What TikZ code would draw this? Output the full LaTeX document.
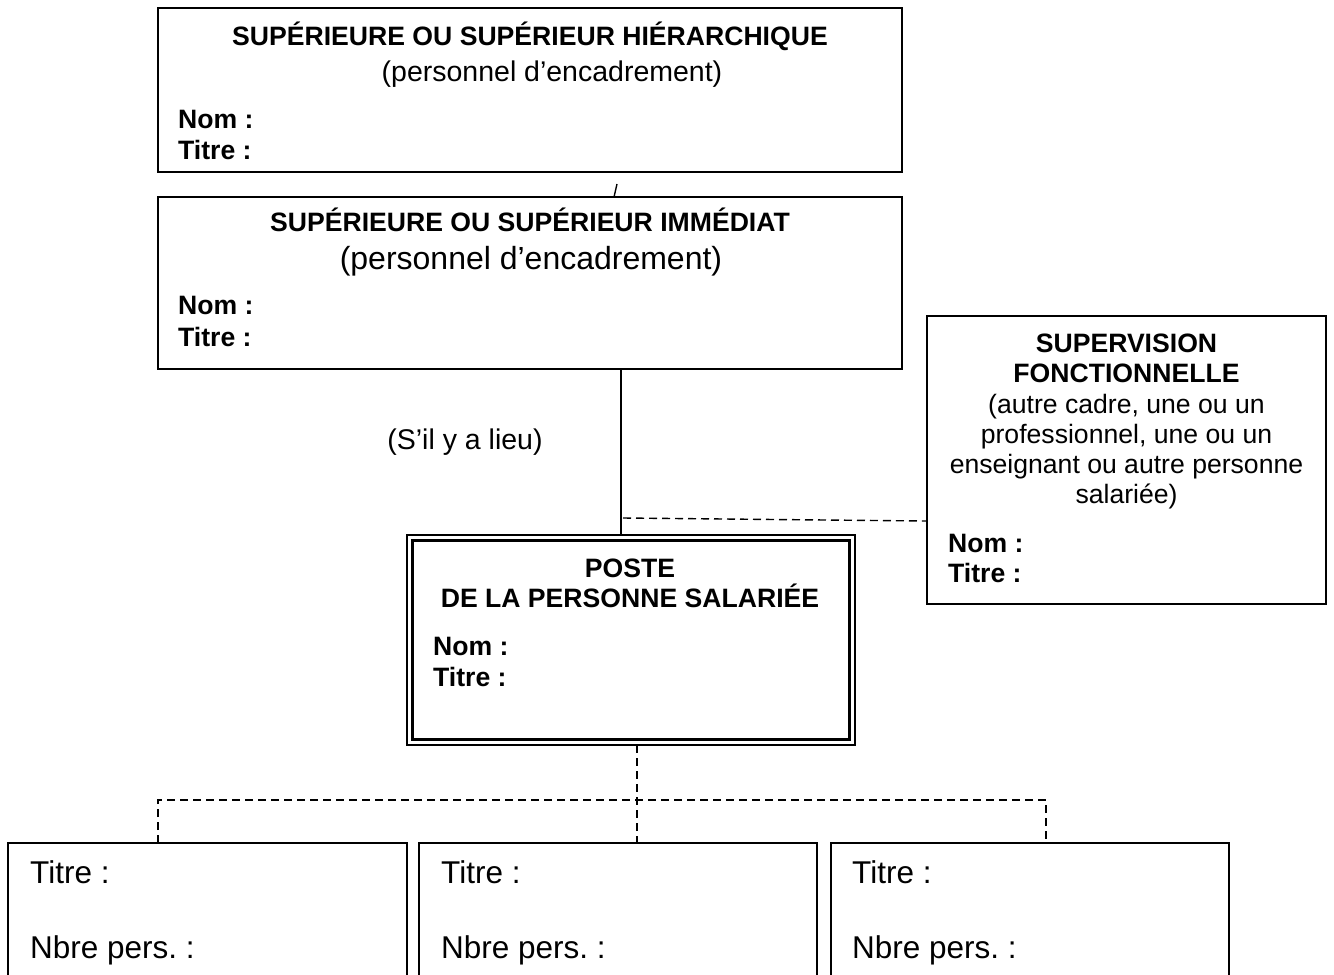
\documentclass[tikz,border=0pt]{standalone}
\usepackage{fontspec}
\setmainfont{Liberation Sans}
\frenchspacing
\begin{document}
\begin{tikzpicture}[x=1pt,y=-1pt,
  box/.style={draw,line width=1.4pt,inner sep=0pt,outer sep=0pt},
  bt/.style={inner sep=0pt,font=\fontsize{26.6}{30}\selectfont\bfseries},
  st/.style={inner sep=0pt,font=\fontsize{28.5}{32}\selectfont},
  rt/.style={inner sep=0pt,font=\fontsize{26.6}{30}\selectfont},
  lt/.style={inner sep=0pt,font=\fontsize{31.5}{36}\selectfont},
  link/.style={line width=1.4pt},
  dlink/.style={line width=1.4pt,dash pattern=on 8pt off 5pt}]
\clip (0,0) rectangle (1334,975);
\fill[white] (0,0) rectangle (1334,975);

% boxes
\node[box,minimum width=744pt,minimum height=164pt] (hier) at (530,90) {};
\node[box,minimum width=744pt,minimum height=172pt] (imm) at (530,283) {};
\node[box,minimum width=399pt,minimum height=288pt] (sup) at (1126.5,460) {};
\node[box,line width=2pt,minimum width=448pt,minimum height=210pt] (poste) at (631,640) {};
\node[box,line width=3pt,minimum width=437pt,minimum height=199pt] (posteIn) at (631,640) {};
\node[box,minimum width=399pt,minimum height=160pt] (subA) at (207.5,923) {};
\node[box,minimum width=398pt,minimum height=160pt] (subB) at (618,923) {};
\node[box,minimum width=398pt,minimum height=160pt] (subC) at (1030,923) {};

% texts box 1
\node[bt,anchor=base] (hierT) at (530,45) {SUPÉRIEURE OU SUPÉRIEUR HIÉRARCHIQUE};
\node[st,anchor=base] (hierS) at (552,81) {(personnel d’encadrement)};
\node[bt,anchor=base west] (hierN) at (178,128) {Nom :};
\node[bt,anchor=base west] (hierR) at (178,159) {Titre :};

% texts box 2
\node[bt,anchor=base] (immT) at (530,231) {SUPÉRIEURE OU SUPÉRIEUR IMMÉDIAT};
\node[st,anchor=base,font=\fontsize{32}{36}\selectfont] (immS) at (531,269) {(personnel d’encadrement)};
\node[bt,anchor=base west] (immN) at (178,314) {Nom :};
\node[bt,anchor=base west] (immR) at (178,346) {Titre :};

% supervision
\node[bt,anchor=base] (supT1) at (1126.5,352) {SUPERVISION};
\node[bt,anchor=base] (supT2) at (1126.5,382) {FONCTIONNELLE};
\node[rt,anchor=base] (supL1) at (1126.5,413) {(autre cadre, une ou un};
\node[rt,anchor=base] (supL2) at (1126.5,443) {professionnel, une ou un};
\node[rt,anchor=base] (supL3) at (1126.5,473) {enseignant ou autre personne};
\node[rt,anchor=base] (supL4) at (1126.5,503) {salariée)};
\node[bt,anchor=base west] (supN) at (948,552) {Nom :};
\node[bt,anchor=base west] (supR) at (948,582) {Titre :};

% poste
\node[bt,anchor=base] (posT1) at (630,577) {POSTE};
\node[bt,anchor=base] (posT2) at (630,607) {DE LA PERSONNE SALARIÉE};
\node[bt,anchor=base west] (posN) at (433,655) {Nom :};
\node[bt,anchor=base west] (posR) at (433,686) {Titre :};

% lieu
\node[st,anchor=base] (lieu) at (465,449) {(S’il y a lieu)};

% bottom texts
\node[lt,anchor=base west] (aT) at (30,883) {Titre :};
\node[lt,anchor=base west] (aN) at (30,958) {Nbre pers. :};
\node[lt,anchor=base west] (bT) at (441,883) {Titre :};
\node[lt,anchor=base west] (bN) at (441,958) {Nbre pers. :};
\node[lt,anchor=base west] (cT) at (852,883) {Titre :};
\node[lt,anchor=base west] (cN) at (852,958) {Nbre pers. :};

% connectors
\coordinate (tickBot) at (614,197);
\coordinate (tickTop) at (617,184);
\draw[link] (tickBot) -- (tickTop);

\coordinate (vx) at (621,0);
\draw[link] (imm.south -| vx) -- (poste.north -| vx);
\coordinate (dL) at (623,518);
\coordinate (dR) at (927,521);
\draw[dlink] (dL) -- (sup.west |- dR);

\coordinate (px) at (637,0);
\coordinate (hy) at (0,800);
\coordinate (ax) at (158,0);
\coordinate (cx) at (1046,0);
\draw[dlink] (poste.south -| px) -- (subB.north -| px);
\draw[dlink] (subA.north -| ax) -- (ax |- hy) -- (cx |- hy) -- (subC.north -| cx);
\end{tikzpicture}
\end{document}
